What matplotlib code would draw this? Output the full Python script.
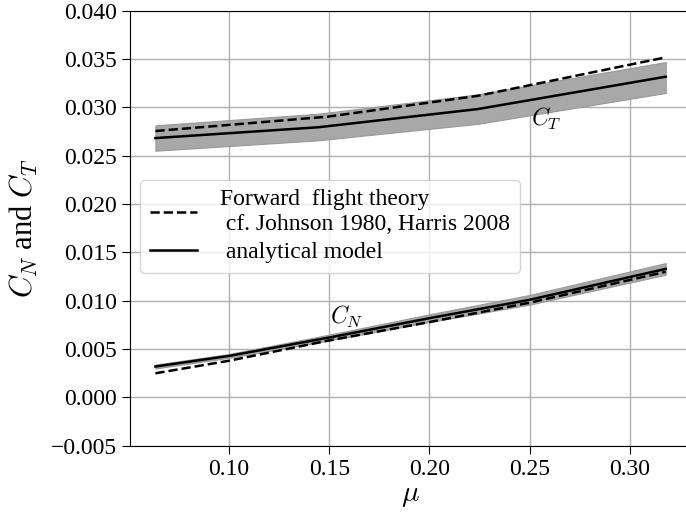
import matplotlib
matplotlib.use("Agg")
import matplotlib.pyplot as plt

plt.rcParams['font.family'] = ['Liberation Serif', 'DejaVu Serif']
plt.rcParams['mathtext.fontset'] = 'cm'

# C_T, analytical model and its band
mu_ct = [0.0632, 0.1445, 0.2241, 0.318]
ct_model = [0.02683, 0.02795, 0.02983, 0.03318]
ct_low = [0.02552, 0.02660, 0.02830, 0.03150]
ct_high = [0.02815, 0.02935, 0.03135, 0.03470]
# C_T, forward flight theory
mu_ct_th = [0.0632, 0.1494, 0.2241, 0.318]
ct_theory = [0.02756, 0.02905, 0.03120, 0.03518]

# C_N, analytical model and its band
mu_cn = [0.0632, 0.10, 0.15, 0.20, 0.25, 0.318]
cn_model = [0.0032, 0.0043, 0.0062, 0.0082, 0.0101, 0.0133]
cn_low = [0.0030, 0.0041, 0.0059, 0.0078, 0.0096, 0.0127]
cn_high = [0.0034, 0.0045, 0.0065, 0.0086, 0.0106, 0.0139]
# C_N, forward flight theory
cn_theory = [0.0025, 0.0038, 0.0059, 0.0078, 0.0098, 0.0130]

fig = plt.figure(figsize=(6.86, 5.13), dpi=100)
ax = fig.add_axes([0.1895, 0.131, 0.818, 0.848])

ax.fill_between(mu_ct, ct_low, ct_high, color='#a8a8a8', lw=0.8, edgecolor='#999999', zorder=2)
ax.fill_between(mu_cn, cn_low, cn_high, color='#a8a8a8', lw=0.8, edgecolor='#999999', zorder=2)

ax.plot(mu_ct_th, ct_theory, 'k--', lw=1.8, zorder=3,
        label='Forward  flight theory\n cf. Johnson 1980, Harris 2008')
ax.plot(mu_ct, ct_model, 'k-', lw=1.8, zorder=3, label=' analytical model')
ax.plot(mu_cn, cn_theory, 'k--', lw=1.8, zorder=3)
ax.plot(mu_cn, cn_model, 'k-', lw=1.8, zorder=3)

ax.text(0.2505, 0.0288, '$C_T$', fontsize=17, va='center', ha='left')
ax.text(0.1505, 0.0083, '$C_N$', fontsize=17, va='center', ha='left')

ax.set_xlim(0.0505, 0.3307)
ax.set_ylim(-0.005, 0.040)
ax.set_xticks([0.10, 0.15, 0.20, 0.25, 0.30])
ax.set_yticks([-0.005, 0.0, 0.005, 0.010, 0.015, 0.020, 0.025, 0.030, 0.035, 0.040])
ax.tick_params(labelsize=17, length=6)
ax.grid(True, color='#b0b0b0', lw=1.0)
ax.set_axisbelow(True)

ax.set_xlabel(r'$\mu$', fontsize=21, labelpad=2)
ax.set_ylabel(r'$C_N$ and $C_T$', fontsize=22, labelpad=8)

ax.legend(loc='upper left', bbox_to_anchor=(0.018, 0.611), borderaxespad=0,
          fontsize=17, handlelength=2.0, handletextpad=1.0, labelspacing=0.3,
          framealpha=0.8)

fig.savefig('out.png', dpi=100)
